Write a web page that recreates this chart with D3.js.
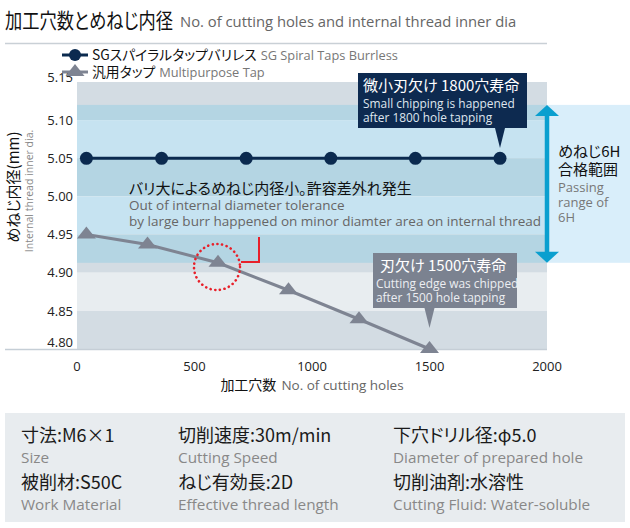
<!DOCTYPE html>
<html><head><meta charset="utf-8">
<script src="https://cdn.jsdelivr.net/npm/d3@7"></script>
<style>
body{margin:0;background:#fff;}
svg{display:block;}
text{font-family:"Noto Sans CJK JP","Noto Sans",sans-serif;font-feature-settings:"palt";}
.en{font-family:"Open Sans","Noto Sans",sans-serif;font-feature-settings:normal;}
</style></head>
<body><svg id="c" width="630" height="528"></svg>
<script>
// ---- data ----
const holesSG = [40, 360, 720, 1080, 1440, 1800];
const diaSG   = [5.05, 5.05, 5.05, 5.05, 5.05, 5.05];
const holesMP = [40, 300, 600, 900, 1200, 1500];
const diaMP   = [4.95, 4.937, 4.913, 4.877, 4.839, 4.80];
const xTicks = [0, 500, 1000, 1500, 2000];
const yTicks = [4.80, 4.85, 4.90, 4.95, 5.00, 5.05, 5.10, 5.15];
const passRange = [4.913, 5.12];
const seriesNames = [["SGスパイラルタップバリレス","SG Spiral Taps Burrless"],["汎用タップ","Multipurpose Tap"]];
const specs = [
  ["寸法:M6×1","Size"],["切削速度:30m/min","Cutting Speed"],["下穴ドリル径:φ5.0","Diameter of prepared hole"],
  ["被削材:S50C","Work Material"],["ねじ有効長:2D","Effective thread length"],["切削油剤:水溶性","Cutting Fluid: Water-soluble"]
];

const svg = d3.select("#c");
const x = d3.scaleLinear().domain([0,2000]).range([77,547]);
const y = d3.scaleLinear().domain([4.80,5.15]).range([349,82]);
const navy = "#0b2a4f", gray = "#7e8492", cyan = "#0a9fcf";

// title
svg.append("text").attr("x",5).attr("y",28).attr("font-size",21).attr("fill","#111")
  .attr("textLength",168).attr("lengthAdjust","spacingAndGlyphs").text("加工穴数とめねじ内径");
svg.append("text").attr("class","en").attr("x",180).attr("y",27).attr("font-size",14.8).attr("fill","#666")
  .text("No. of cutting holes and internal thread inner dia");
svg.append("line").attr("x1",5).attr("x2",x(2000)).attr("y1",43.5).attr("y2",43.5).attr("stroke","#c9d0d6").attr("stroke-width",1.5);

// right light panel
svg.append("rect").attr("x",x(2000)).attr("width",630-x(2000)).attr("y",y(passRange[1])).attr("height",y(passRange[0])-y(passRange[1])).attr("fill","#d9eefa");

// bands
const bands = d3.pairs(yTicks.slice().reverse());
bands.forEach((b,i)=>{
  const hi=b[0], lo=b[1], dark = i%2===0;
  svg.append("rect").attr("x",x(0)).attr("width",x(2000)-x(0)).attr("y",y(hi)).attr("height",y(lo)-y(hi))
    .attr("fill", dark?"#d3dce3":"#e8edf0");
  const h2=Math.min(hi,passRange[1]), l2=Math.max(lo,passRange[0]);
  if(h2>l2){
    svg.append("rect").attr("x",x(0)).attr("width",x(2000)-x(0)).attr("y",y(h2)).attr("height",y(l2)-y(h2))
      .attr("fill", dark?"#b4d5e3":"#c6e3f1");
  }
});
svg.append("line").attr("x1",5).attr("x2",x(2000)).attr("y1",y(4.80)+0.5).attr("y2",y(4.80)+0.5).attr("stroke","#c5ced6").attr("stroke-width",1.5);

// y tick labels
svg.append("g").selectAll("text").data(yTicks).join("text")
  .attr("x",73).attr("y",d=>y(d)).attr("dy",d=>d===4.80?"-0.12em":(d===5.15?"0.02em":"0.36em"))
  .attr("text-anchor","end").attr("font-size",13).attr("fill","#222").attr("class","en")
  .text(d=>d.toFixed(2));
// x tick labels
svg.append("g").selectAll("text").data(xTicks).join("text")
  .attr("x",d=>x(d)).attr("y",371).attr("text-anchor","middle").attr("font-size",13).attr("fill","#222").attr("class","en")
  .text(d=>d);
const xt = svg.append("text").attr("x",312).attr("y",390).attr("text-anchor","middle");
xt.append("tspan").attr("font-size",14).attr("fill","#111").text("加工穴数");
xt.append("tspan").attr("class","en").attr("dx",5).attr("font-size",13.5).attr("fill","#666").text("No. of cutting holes");
// y title
svg.append("text").attr("transform","translate(19,187) rotate(-90)").attr("text-anchor","middle").attr("font-size",15).attr("fill","#111").text("めねじ内径(mm)");
svg.append("text").attr("class","en").attr("transform","translate(33,191) rotate(-90)").attr("text-anchor","middle").attr("font-size",10.5).attr("fill","#888").text("Internal thread inner dia.");

// arrow
const ay1=y(passRange[1]), ay0=y(passRange[0]), ax=x(2000);
svg.append("line").attr("x1",ax).attr("x2",ax).attr("y1",ay1+8).attr("y2",ay0-8).attr("stroke",cyan).attr("stroke-width",4.5);
svg.append("path").attr("d",`M${ax},${ay1}L${ax+12},${ay1+11}L${ax-12},${ay1+11}Z`).attr("fill",cyan);
svg.append("path").attr("d",`M${ax},${ay0}L${ax+12},${ay0-11}L${ax-12},${ay0-11}Z`).attr("fill",cyan);
const rt = svg.append("g");
rt.append("text").attr("x",558).attr("y",157).attr("font-size",15).attr("fill","#111").text("めねじ6H");
rt.append("text").attr("x",558).attr("y",175).attr("font-size",15).attr("fill","#111").text("合格範囲");
["Passing","range of","6H"].forEach((s,i)=>rt.append("text").attr("class","en").attr("x",558).attr("y",192+i*15).attr("font-size",13).attr("fill","#777").text(s));

// annotation text
svg.append("text").attr("x",129).attr("y",194).attr("font-size",15).attr("fill","#111").text("バリ大によるめねじ内径小。許容差外れ発生");
svg.append("text").attr("class","en").attr("x",129).attr("y",210).attr("font-size",13.5).attr("fill","#666").text("Out of internal diameter tolerance");
svg.append("text").attr("class","en").attr("x",129).attr("y",226).attr("font-size",13.5).attr("fill","#666").text("by large burr happened on minor diamter area on internal thread");

// lines
const line = d3.line().x(d=>x(d[0])).y(d=>y(d[1]));
const sg = d3.zip(holesSG, diaSG), mp = d3.zip(holesMP, diaMP);
svg.append("path").attr("d",line(mp)).attr("fill","none").attr("stroke",gray).attr("stroke-width",3);
const tri = "M0,-7L9.5,5L-9.5,5Z";
svg.append("g").selectAll("path").data(mp).join("path").attr("d",tri)
  .attr("transform",d=>`translate(${x(d[0])},${y(d[1])-1})`).attr("fill",gray);
svg.append("path").attr("d",line(sg)).attr("fill","none").attr("stroke",navy).attr("stroke-width",3);
svg.append("g").selectAll("circle").data(sg).join("circle").attr("cx",d=>x(d[0])).attr("cy",d=>y(d[1])).attr("r",6.5).attr("fill",navy);

// red highlight
svg.append("circle").attr("cx",217).attr("cy",267).attr("r",23).attr("fill","none").attr("stroke","#e8202a").attr("stroke-width",2.6).attr("stroke-dasharray","0.1 4.6").attr("stroke-linecap","round");
svg.append("path").attr("d","M259,237V262H241").attr("fill","none").attr("stroke","#e8202a").attr("stroke-width",2);

// callouts
function callout(bx,by,bw,bh,tipX,tipY,fill,lines,subColor,pad){
  svg.append("rect").attr("x",bx).attr("y",by).attr("width",bw).attr("height",bh).attr("fill",fill);
  svg.append("path").attr("d",`M${tipX-5},${by+bh}L${tipX},${tipY}L${tipX+5},${by+bh}Z`).attr("fill",fill);
  svg.append("text").attr("x",bx+pad[0]).attr("y",by+18).attr("font-size",15).attr("fill","#fff").text(lines[0]);
  svg.append("text").attr("class","en").attr("x",bx+pad[1]).attr("y",by+35).attr("font-size",11.9).attr("fill",subColor).text(lines[1]);
  svg.append("text").attr("class","en").attr("x",bx+pad[1]).attr("y",by+49).attr("font-size",11.9).attr("fill",subColor).text(lines[2]);
}
callout(358,73,169,55,x(1800),148,"#0d2a50",["微小刃欠け 1800穴寿命","Small chipping is happened","after 1800 hole tapping"],"#dfe6ee",[5,5]);
callout(373,253,144,55,x(1500),328,"#7b8290",["刃欠け 1500穴寿命","Cutting edge was chipped","after 1500 hole tapping"],"#eceef2",[7,3]);

// legend
const lg = svg.append("g");
lg.append("line").attr("x1",62).attr("x2",88).attr("y1",55).attr("y2",55).attr("stroke",navy).attr("stroke-width",3);
lg.append("circle").attr("cx",75).attr("cy",55).attr("r",6).attr("fill",navy);
lg.append("line").attr("x1",62).attr("x2",88).attr("y1",72).attr("y2",72).attr("stroke",gray).attr("stroke-width",3);
lg.append("path").attr("d",tri).attr("transform","translate(75,71)").attr("fill",gray);
seriesNames.forEach((n,i)=>{
  const tx = lg.append("text").attr("x",92).attr("y",60+i*17);
  tx.append("tspan").attr("font-size",13.8).attr("fill","#111").text(n[0]);
  tx.append("tspan").attr("class","en").attr("dx",4).attr("font-size",12.8).attr("fill","#777").text(n[1]);
});

// spec panel
svg.append("rect").attr("x",5).attr("y",413).attr("width",620).attr("height",109).attr("fill","#e8ecef");
const colX = [21, 178, 393];
specs.forEach((s,i)=>{
  const cx = colX[i%3], row = Math.floor(i/3);
  svg.append("text").attr("x",cx).attr("y",442+row*47).attr("font-size",18).attr("fill","#1a1a1a").text(s[0]);
  svg.append("text").attr("class","en").attr("x",cx).attr("y",463+row*47).attr("font-size",15.3).attr("fill","#888").text(s[1]);
});
</script></body></html>
